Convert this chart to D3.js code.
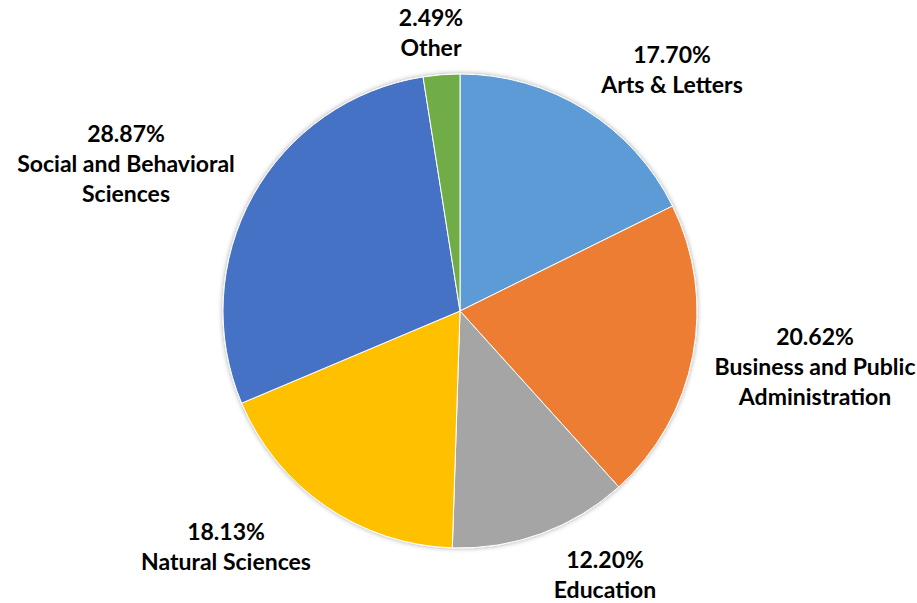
<!DOCTYPE html>
<html>
<head>
<meta charset="utf-8">
<script src="https://cdn.jsdelivr.net/npm/d3@7"></script>
<style>
  html, body { margin: 0; padding: 0; background: #fff; }
  svg { display: block; }
  .lbl { font-family: Lato, "Open Sans", sans-serif; font-weight: bold; font-size: 23px; fill: #000; }
</style>
</head>
<body>
<svg id="chart" width="917" height="603"></svg>
<script>
const categories = ["Arts & Letters", "Business and Public Administration", "Education", "Natural Sciences", "Social and Behavioral Sciences", "Other"];
const shares = [17.70, 20.62, 12.20, 18.13, 28.87, 2.49];
const colors = ["#5B9BD5", "#ED7D31", "#A5A5A5", "#FFC000", "#4472C4", "#70AD47"];
// label text broken into lines
const labelLines = [
  ["Arts & Letters"],
  ["Business and Public", "Administration"],
  ["Education"],
  ["Natural Sciences"],
  ["Social and Behavioral", "Sciences"],
  ["Other"]
];
// label anchor (centre of first line) for each slice
const labelPos = [[672, 55], [815, 337], [605, 560], [226, 532], [126, 134], [431, 18]];

const W = 917, H = 603;
const cx = 460, cy = 311, R = 237, lineH = 30;

const svg = d3.select("#chart");
const defs = svg.append("defs");
const f = defs.append("filter").attr("id", "shadow").attr("x", "-10%").attr("y", "-10%").attr("width", "120%").attr("height", "120%");
f.append("feDropShadow").attr("dx", 0).attr("dy", 0).attr("stdDeviation", 2.5).attr("flood-color", "#000").attr("flood-opacity", 0.35);

const data = categories.map((c, i) => ({ name: c, value: shares[i], color: colors[i], lines: labelLines[i], pos: labelPos[i] }));

const pie = d3.pie().value(d => d.value).sort(null);
const arc = d3.arc().innerRadius(0).outerRadius(R);

const g = svg.append("g").attr("transform", `translate(${cx},${cy})`);
g.append("g").attr("filter", "url(#shadow)")
  .selectAll("path").data(pie(data)).join("path")
  .attr("d", arc)
  .attr("fill", d => d.data.color)
  .attr("stroke", "#fff")
  .attr("stroke-width", 1);

const labels = svg.append("g").selectAll("text").data(data).join("text")
  .attr("class", "lbl")
  .attr("text-anchor", "middle")
  .attr("x", d => d.pos[0])
  .attr("y", d => d.pos[1]);
labels.each(function(d) {
  const t = d3.select(this);
  const lines = [d3.format(".2f")(d.value) + "%"].concat(d.lines);
  lines.forEach((ln, k) => {
    t.append("tspan").attr("x", d.pos[0]).attr("y", d.pos[1] + k * lineH).attr("dy", "0.35em").text(ln);
  });
});
</script>
</body>
</html>
